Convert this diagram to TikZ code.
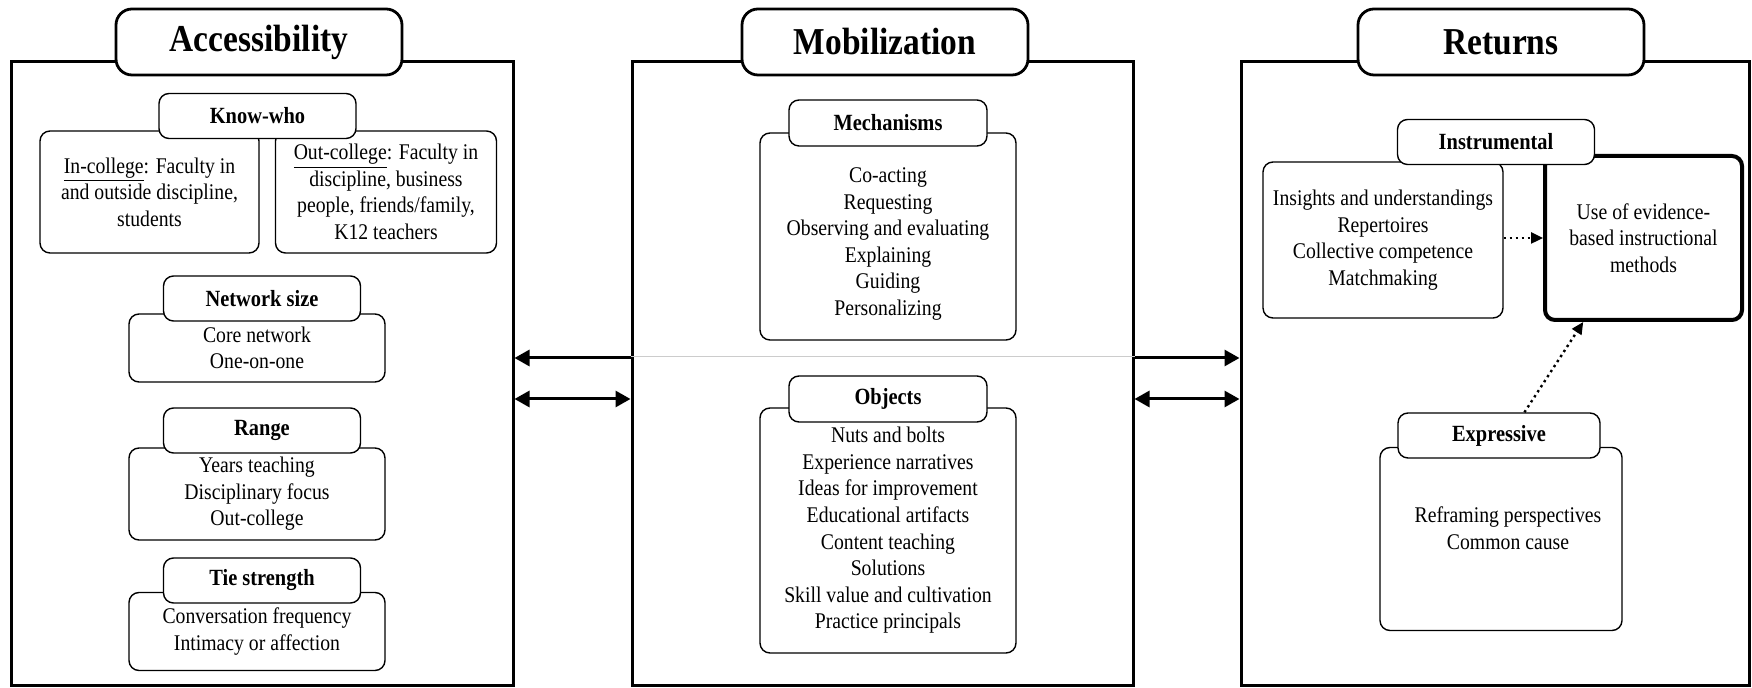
\documentclass[tikz,border=0pt]{standalone}
\usepackage{fontspec}
\setmainfont{Liberation Serif}[FakeStretch=0.88]
\usetikzlibrary{arrows.meta,calc}

\tikzset{
	panel/.style={draw,line width=1.5pt,minimum width=#1,minimum height=312pt},
	paneltitle/.style={draw,fill=white,line width=1.4pt,rounded corners=8pt,minimum width=143pt,minimum height=33pt,font=\fontsize{19}{22}\selectfont\bfseries},
	head/.style={draw,fill=white,line width=0.7pt,rounded corners=5pt,minimum width=98.5pt,minimum height=22.5pt,font=\fontsize{11.6}{14}\selectfont\bfseries},
	body/.style={draw,fill=white,line width=0.7pt,rounded corners=5pt,align=center,font=\fontsize{11.2}{13.3}\selectfont},
	bodytext/.style={align=center,inner sep=0pt,font=\fontsize{11.2}{13.3}\selectfont},
	link/.style={line width=1.5pt},
	hint/.style={line width=1.2pt,dash pattern=on 1.2pt off 1.8pt,-{Triangle[length=6pt,width=5.5pt]}}
}

\begin{document}
\begin{tikzpicture}[x=0.5pt,y=-0.5pt,>={Triangle[length=7.5pt,width=8pt]}]
	\useasboundingbox (0,0) rectangle (1752,688);
	% panels and their titles
	\node[panel=251pt] (acc) at (262,374) {};
	\node[panel=250.5pt] (mob) at (882.5,374) {};
	\node[panel=254pt] (ret) at (1495,374) {};
	\node[paneltitle] (acctitle) at (259,42) {Accessibility};
	\node[paneltitle] (mobtitle) at (885,42) {Mobilization};
	\node[paneltitle] (rettitle) at (1501,42) {Returns};

	\draw[link,->] (mob.west |- 0,358) -- (acc.east |- 0,358);
	\draw[link,->] (mob.east |- 0,358) -- (ret.west |- 0,358);
	\draw[black!20,line width=0.5pt] (mob.west |- 0,357) -- (mob.east |- 0,357);
	\draw[link,<->] (acc.east |- 0,399) -- (mob.west |- 0,399);
	\draw[link,<->] (mob.east |- 0,399) -- (ret.west |- 0,399);

	% accessibility
	\node[body,minimum width=109.5pt,minimum height=61pt] (incollege) at (149.5,192) {\underline{In-college}: Faculty in\\and outside discipline,\\students};
	\node[body,minimum width=110.5pt,minimum height=61pt] (outcollege) at (386,192) {\underline{Out-college}: Faculty in\\discipline, business\\people, friends/family,\\K12 teachers};
	\node[head] (knowwho) at (257.5,116) {Know-who};
	\node[body,minimum width=128pt,minimum height=34pt] (netbody) at (257,348) {Core network\\One-on-one};
	\node[head] (nethead) at (262,298.5) {Network size};
	\node[body,minimum width=128pt,minimum height=46pt] (rangebody) at (257,494) {Years teaching\\Disciplinary focus\\Out-college};
	\node[head] (rangehead) at (262,430.5) {Range};
	\node[body,minimum width=128pt,minimum height=39pt] (tiebody) at (257,631.5) {Conversation frequency\\Intimacy or affection};
	\node[head] (tiehead) at (262,580.5) {Tie strength};

	% mobilization
	\node[body,minimum width=128pt,minimum height=103.5pt] (mechbody) at (888,236.5) {};
	\node[bodytext] (mechtext) at (888,244) {Co-acting\\Requesting\\Observing and evaluating\\Explaining\\Guiding\\Personalizing};
	\node[head,minimum width=99pt,minimum height=23pt] (mechhead) at (888,123) {Mechanisms};
	\node[body,minimum width=128pt,minimum height=122.5pt] (objbody) at (888,530.5) {Nuts and bolts\\Experience narratives\\Ideas for improvement\\Educational artifacts\\Content teaching\\Solutions\\Skill value and cultivation\\Practice principals};
	\node[head,minimum width=99pt,minimum height=23pt] (objhead) at (888,399) {Objects};

	% returns
	\node[body,minimum width=120pt,minimum height=78pt] (instbody) at (1383,240) {Insights and understandings\\Repertoires\\Collective competence\\Matchmaking};
	\node[body,line width=2pt,minimum width=98.5pt,minimum height=82pt] (usebox) at (1643.5,238) {Use of evidence-\\based instructional\\methods};
	\node[head] (insthead) at (1496,142) {Instrumental};
	\node[body,minimum width=121pt,minimum height=91.5pt] (expbody) at (1501,539) {};
	\node[bodytext] (exptext) at (1508,528) {Reframing perspectives\\Common cause};
	\node[head,minimum width=101pt] (exphead) at (1499,435.5) {Expressive};

	\draw[hint] (instbody.east |- usebox) -- (usebox);
	\draw[hint] ($(exphead.north)!0.25!(exphead.north east)$) -- ($(usebox.south)!0.6!(usebox.south west)$);
\end{tikzpicture}
\end{document}
